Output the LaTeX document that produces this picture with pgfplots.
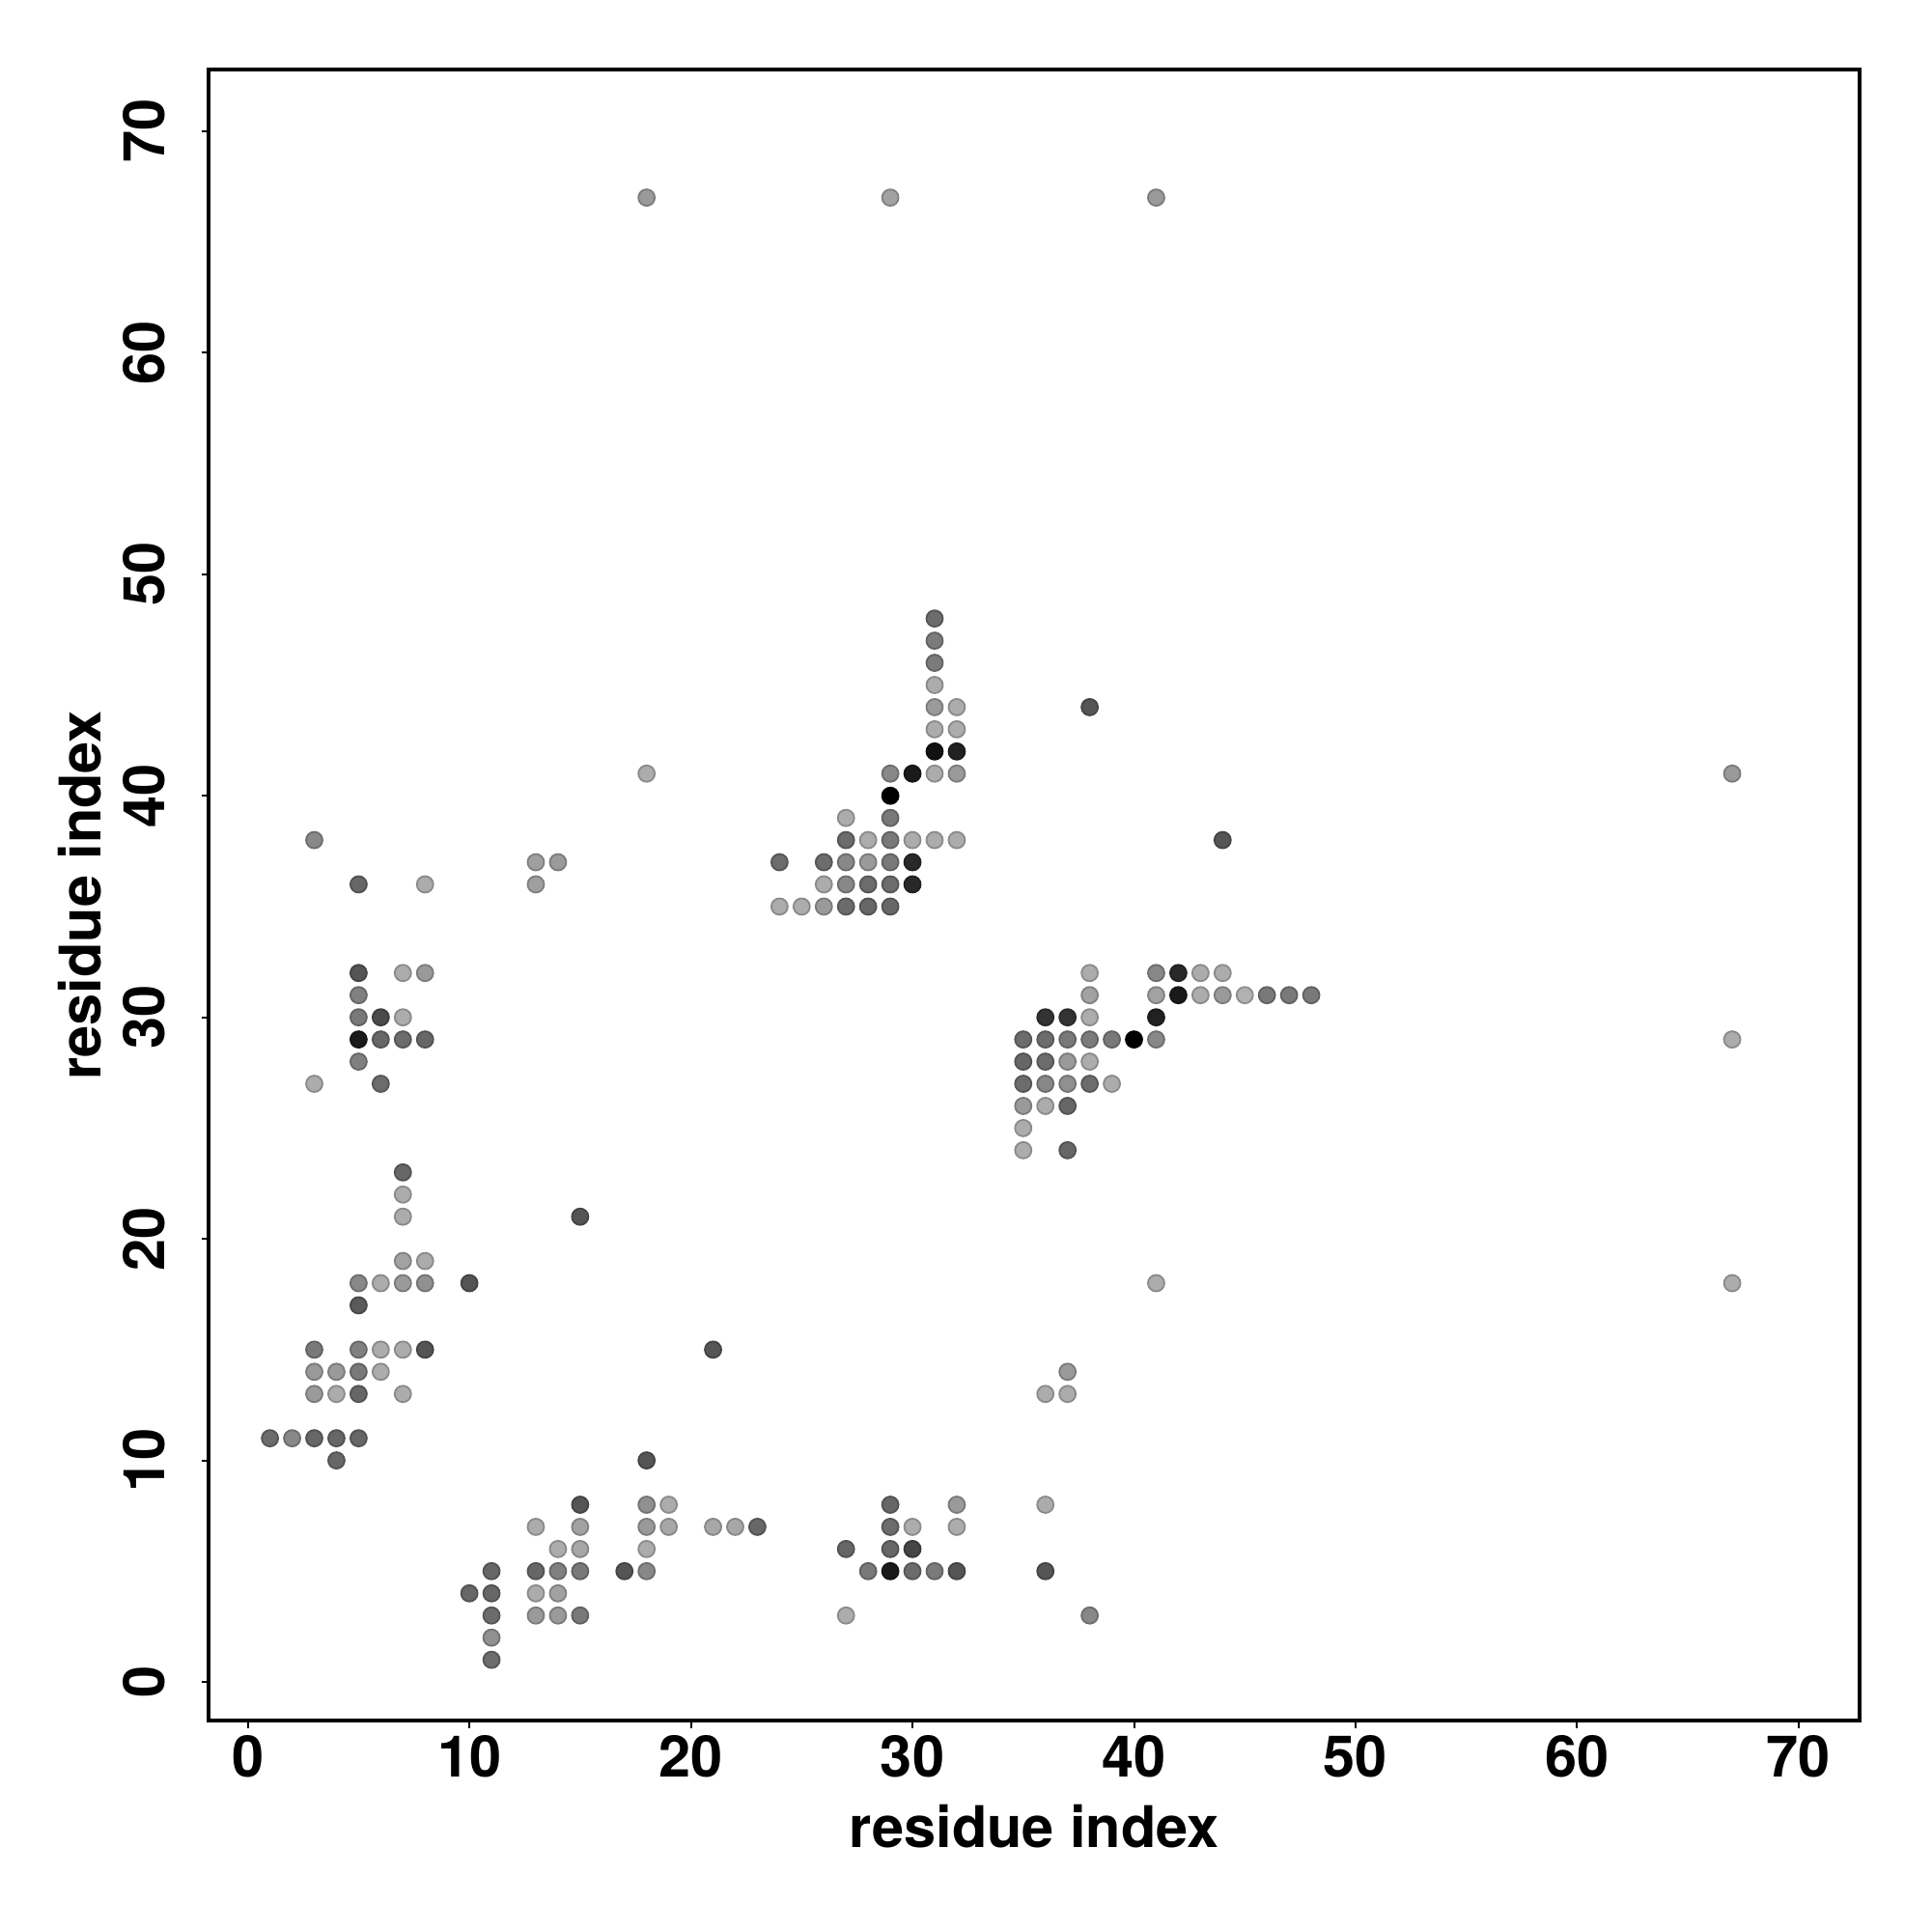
\documentclass[border=0pt]{standalone}
\usepackage{pgfplots}
\pgfplotsset{compat=1.18}
\usepackage{fontspec}
\setmainfont{TeX Gyre Heros}
\pgfplotstableread{
x y g
3 38 .53
5 36 .4
8 36 .67
5 32 .33
7 32 .67
8 32 .6
5 31 .5
5 30 .47
6 30 .29
7 30 .67
5 29 .1
6 29 .4
7 29 .42
8 29 .4
5 28 .5
3 27 .67
6 27 .42
7 23 .4
7 22 .67
7 21 .67
7 19 .63
8 19 .67
5 18 .53
6 18 .67
7 18 .6
8 18 .56
10 18 .33
5 17 .35
3 15 .47
5 15 .5
6 15 .67
7 15 .67
8 15 .33
3 14 .6
4 14 .6
5 14 .47
6 14 .67
3 13 .6
4 13 .67
5 13 .4
7 13 .67
1 11 .42
2 11 .53
3 11 .4
4 11 .4
5 11 .4
4 10 .4
18 10 .33
15 8 .33
18 8 .56
19 8 .67
13 7 .67
15 7 .63
18 7 .6
19 7 .65
21 7 .65
22 7 .65
23 7 .4
14 6 .67
15 6 .65
18 6 .67
11 5 .4
13 5 .4
14 5 .5
15 5 .47
17 5 .33
18 5 .53
10 4 .4
11 4 .4
13 4 .67
14 4 .63
11 3 .42
13 3 .6
14 3 .6
15 3 .47
11 2 .56
11 1 .42
29 8 .4
32 8 .6
29 7 .42
30 7 .67
32 7 .67
27 6 .4
29 6 .4
30 6 .27
28 5 .47
29 5 .1
30 5 .42
31 5 .48
32 5 .33
27 3 .67
36 8 .67
36 5 .33
38 3 .53
31 48 .42
31 47 .48
31 46 .48
31 45 .67
31 44 .6
32 44 .67
31 43 .67
32 43 .67
31 42 .07
32 42 .13
29 41 .53
30 41 .1
31 41 .67
32 41 .6
29 40 0
27 39 .67
29 39 .47
27 38 .42
28 38 .67
29 38 .47
30 38 .67
31 38 .67
32 38 .67
24 37 .42
26 37 .42
27 37 .53
28 37 .6
29 37 .47
30 37 .16
26 36 .67
27 36 .53
28 36 .42
29 36 .42
30 36 .16
24 35 .67
25 35 .67
26 35 .6
27 35 .42
28 35 .4
29 35 .4
38 32 .67
41 32 .53
42 32 .16
43 32 .67
44 32 .67
38 31 .63
41 31 .63
42 31 .1
43 31 .67
44 31 .6
45 31 .69
46 31 .47
47 31 .47
48 31 .47
36 30 .2
37 30 .2
38 30 .67
41 30 .13
35 29 .42
36 29 .42
37 29 .47
38 29 .48
39 29 .47
40 29 0
41 29 .53
35 28 .4
36 28 .42
37 28 .6
38 28 .67
35 27 .42
36 27 .53
37 27 .56
38 27 .42
39 27 .67
35 26 .6
36 26 .67
37 26 .4
35 25 .67
35 24 .67
37 24 .4
18 67 .6
29 67 .63
41 67 .6
18 41 .67
67 41 .6
38 44 .33
44 38 .33
13 37 .62
14 37 .6
13 36 .62
15 21 .33
21 15 .33
67 29 .67
41 18 .67
67 18 .67
36 13 .67
37 13 .67
37 14 .6
}\contacts
\begin{document}
\begin{tikzpicture}
\begin{axis}[
  name=ax,
  width=13.44cm, height=13.44cm, scale only axis,
  xmin=-1.76, xmax=72.76, ymin=-1.76, ymax=72.76,
  xtick={0,10,...,70}, ytick={0,10,...,70},
  tick align=outside, major tick length=0.6mm,
  tick style={line width=0.45pt, black},
  axis line style={line width=0.9pt},
  xtick pos=bottom, ytick pos=left,
  font=\fontsize{13.3}{16}\selectfont\bfseries,
  /pgf/number format/assume math mode=true,
  ticklabel style={font=\fontsize{13.3}{16}\selectfont\bfseries, inner sep=0pt},
  xticklabel style={anchor=north, yshift=-0.5mm},
  yticklabel style={rotate=90, anchor=south, yshift=2.9mm},
  xlabel={residue index}, ylabel={residue index},
  xlabel style={at={(axis description cs:0.5,0)}, anchor=center, yshift=-8.6mm, inner sep=0pt},
  ylabel style={at={(axis description cs:0,0.5)}, anchor=center, yshift=10.5mm, inner sep=0pt},
  colormap={bw}{gray(0cm)=(0); gray(1cm)=(1)},
  point meta min=0, point meta max=1,
]
\addplot[scatter, only marks, mark=*, mark size=1.9pt, scatter src=explicit] table[x=x, y=y, meta=g] {\contacts};
\end{axis}
\pgfresetboundingbox
\path[use as bounding box] ([shift={(-1.70cm,-1.71cm)}]ax.south west) rectangle ([shift={(0.58cm,0.57cm)}]ax.north east);
\end{tikzpicture}
\end{document}
